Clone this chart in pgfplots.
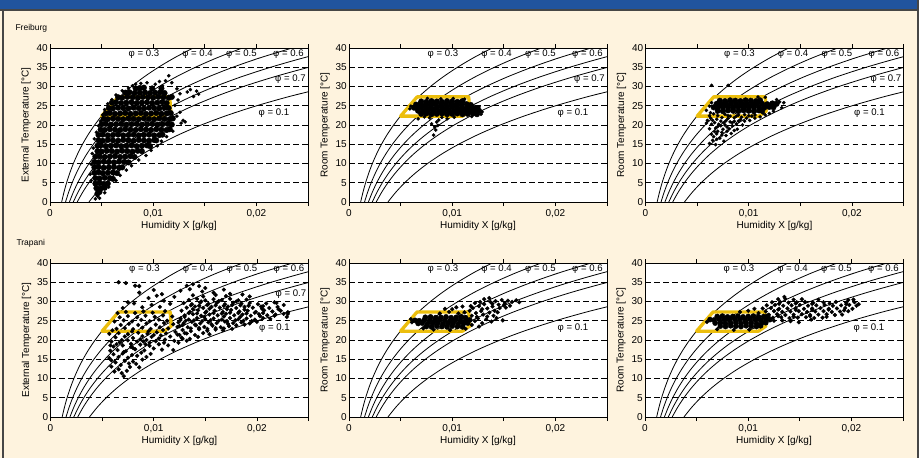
\documentclass[border=0pt]{standalone}
\usepackage{pgfplots}
\pgfplotsset{compat=1.18}
\usepackage{fontspec}
\setmainfont{Liberation Sans}
\definecolor{hdrblue}{RGB}{33,84,158}
\definecolor{cream}{RGB}{254,243,222}
\definecolor{zoneyellow}{RGB}{236,190,12}
\definecolor{framec}{RGB}{70,70,70}

\pgfplotsset{
 psy/.style={
  scale only axis, width=258pt, height=154pt, anchor=south west,
  xmin=0, xmax=25, ymin=0, ymax=40,
  axis background/.style={fill=white},
  axis line style={line width=0.8pt},
  xtick={0,5,10,15,20,25},
  xticklabels={0,,{0,01},,{0,02},},
  ytick={0,5,...,40},
  tick align=outside,
  major tick length=4pt,
  xtick style={line width=0.8pt,black},
  ytick style={draw=none},
  yticklabel style={xshift=3pt,inner sep=1pt},
  ymajorgrids,
  grid style={black,line width=0.7pt,dash pattern=on 5.5pt off 3.5pt},
  tick label style={font=\fontsize{10}{12}\selectfont},
  /pgf/number format/assume math mode=true,
  xlabel={Humidity X [g/kg]},
  every axis x label/.style={at={(axis description cs:0.5,0)},anchor=center,yshift=-24pt,font=\fontsize{10}{12}\selectfont},
  every axis y label/.style={at={(axis description cs:0,0.5)},xshift=-24pt,rotate=90,anchor=center,font=\fontsize{10}{12}\selectfont},
 },
 core/.style={only marks,mark=*,mark size=2.8pt,black},
 pts/.style={only marks,mark=*,mark size=1.6pt,black},
 curve/.style={black,line width=0.8pt,smooth},
}

\newcommand{\curves}{%
\addplot[curve] coordinates {(1.128,0)(1.350,2.5)(1.609,5)(1.913,7.5)(2.266,10)(2.676,12.5)(3.150,15)(3.697,17.5)(4.326,20)(5.048,22.5)(5.875,25)(6.819,27.5)(7.896,30)(9.121,32.5)(10.512,35)(12.087,37.5)(13.871,40)};
\addplot[curve] coordinates {(1.505,0)(1.801,2.5)(2.148,5)(2.553,7.5)(3.025,10)(3.573,12.5)(4.207,15)(4.939,17.5)(5.781,20)(6.749,22.5)(7.858,25)(9.126,27.5)(10.572,30)(12.221,32.5)(14.095,35)(16.221,37.5)(18.633,40)};
\addplot[curve] coordinates {(1.882,0)(2.253,2.5)(2.687,5)(3.195,7.5)(3.786,10)(4.473,12.5)(5.268,15)(6.186,17.5)(7.243,20)(8.459,22.5)(9.853,25)(11.449,27.5)(13.271,30)(15.351,32.5)(17.719,35)(20.410,37.5)(23.467,40)};
\addplot[curve] coordinates {(2.259,0)(2.705,2.5)(3.228,5)(3.838,7.5)(4.549,10)(5.374,12.5)(6.331,15)(7.438,17.5)(8.712,20)(10.178,22.5)(11.862,25)(13.790,27.5)(15.994,30)(18.513,32.5)(21.384,35)(24.653,37.5)(28.374,40)};
\addplot[curve] coordinates {(2.637,0)(3.158,2.5)(3.769,5)(4.482,7.5)(5.313,10)(6.279,12.5)(7.399,15)(8.695,17.5)(10.187,20)(11.907,22.5)(13.882,25)(16.148,27.5)(18.740,30)(21.706,32.5)(25.091,35)(28.953,37.5)};
\addplot[curve] coordinates {(3.775,0)(4.522,2.5)(5.398,5)(6.423,7.5)(7.618,10)(9.010,12.5)(10.625,15)(12.496,17.5)(14.657,20)(17.151,22.5)(20.024,25)(23.328,27.5)(27.122,30)};
}
\newcommand{\phfont}{\fontsize{9.6}{11}\selectfont}
\newcommand{\phlabels}{%
\node[font=\phfont] at (axis cs:9.1,38.3) {φ = 0.3};
\node[font=\phfont] at (axis cs:14.3,38.3) {φ = 0.4};
\node[font=\phfont] at (axis cs:18.55,38.3) {φ = 0.5};
\node[font=\phfont] at (axis cs:23.1,38.3) {φ = 0.6};
\node[font=\phfont] at (axis cs:21.7,23.0) {φ = 0.1};
}
\newcommand{\phseven}{\node[font=\phfont] at (axis cs:23.3,31.8) {φ = 0.7};}
\newcommand{\zone}{%
\addplot[zoneyellow,line width=3.3pt,line join=round,line cap=round] coordinates {(5.0,22.3)(6.6,27.3)(11.6,27.3)(11.7,23.6)(11.0,22.3)(5.0,22.3)(6.6,27.3)};
}

\begin{document}
\begin{tikzpicture}
\path[use as bounding box] (0pt,0pt) rectangle (924pt,-458pt);
\fill[cream] (0pt,0pt) rectangle (924pt,-458pt);
\fill[white] (919pt,0pt) rectangle (924pt,-458pt);
\fill[hdrblue] (0pt,0pt) rectangle (919pt,-9.5pt);
\draw[framec,line width=1.2pt] (0pt,-10pt) -- (919pt,-10pt);
\draw[framec,line width=1.3pt] (3pt,-10pt) -- (3pt,-458pt);
\draw[framec,line width=1.3pt] (918pt,0pt) -- (918pt,-458pt);
\node[anchor=west,font=\fontsize{8.5}{10}\selectfont] at (12pt,-28pt) {Freiburg};
\node[anchor=west,font=\fontsize{8.5}{10}\selectfont] at (13pt,-243pt) {Trapani};

% ---------- Plot 1: Freiburg external
\begin{axis}[psy, at={(50pt,-202pt)}, ylabel={External Temperature [°C]}]
\curves
\addplot[core] coordinates {
(4.6,2.2)(4.8,2.6)
(4.5,3.6)(4.9,3.5)(5.3,3.7)
(4.4,4.8)(4.8,4.9)(5.2,4.7)(5.6,4.8)
(4.4,6.2)(4.8,6.1)(5.3,6.3)(5.8,6.2)(6.1,6.0)
(4.3,7.6)(4.7,7.7)(5.1,7.5)(5.6,7.6)(6.1,7.7)(6.5,7.5)
(4.3,9.0)(4.7,9.1)(5.2,8.9)(5.7,9.0)(6.2,9.1)(6.7,8.9)(7.0,9.0)
(4.3,10.4)(4.7,10.3)(5.2,10.5)(5.7,10.4)(6.2,10.3)(6.7,10.5)(7.2,10.4)(7.6,10.3)
(4.4,11.8)(4.8,11.9)(5.3,11.7)(5.8,11.8)(6.3,11.9)(6.8,11.7)(7.3,11.8)(7.8,11.9)(8.2,11.7)
(4.6,13.2)(5.0,13.1)(5.5,13.3)(6.0,13.2)(6.5,13.1)(7.0,13.3)(7.5,13.2)(8.0,13.1)(8.5,13.3)(8.9,13.2)
(4.6,14.6)(4.9,14.7)(5.4,14.5)(5.9,14.6)(6.4,14.7)(6.9,14.5)(7.4,14.6)(7.9,14.7)(8.4,14.5)(8.9,14.6)(9.4,14.7)(9.7,14.5)
(4.7,16.0)(5.1,15.9)(5.6,16.1)(6.1,16.0)(6.6,15.9)(7.1,16.1)(7.6,16.0)(8.1,15.9)(8.6,16.1)(9.1,16.0)(9.6,15.9)(10.1,16.1)(10.3,16.0)
(4.7,17.4)(5.1,17.5)(5.6,17.3)(6.1,17.4)(6.6,17.5)(7.1,17.3)(7.6,17.4)(8.1,17.5)(8.6,17.3)(9.1,17.4)(9.6,17.5)(10.1,17.3)(10.6,17.4)(10.9,17.5)
(4.9,18.8)(5.3,18.7)(5.8,18.9)(6.3,18.8)(6.8,18.7)(7.3,18.9)(7.8,18.8)(8.3,18.7)(8.8,18.9)(9.3,18.8)(9.8,18.7)(10.3,18.9)(10.8,18.8)(11.3,18.7)(11.6,18.9)
(5.0,20.2)(5.4,20.3)(5.9,20.1)(6.4,20.2)(6.9,20.3)(7.4,20.1)(7.9,20.2)(8.4,20.3)(8.9,20.1)(9.4,20.2)(9.9,20.3)(10.4,20.1)(10.9,20.2)(11.4,20.3)(11.8,20.1)
(5.2,21.6)(5.6,21.5)(6.1,21.7)(6.6,21.6)(7.1,21.5)(7.6,21.7)(8.1,21.6)(8.6,21.5)(9.1,21.7)(9.6,21.6)(10.1,21.5)(10.6,21.7)(11.1,21.6)(11.6,21.5)(11.9,21.7)
(5.4,23.0)(5.8,23.1)(6.3,22.9)(6.8,23.0)(7.3,23.1)(7.8,22.9)(8.3,23.0)(8.8,23.1)(9.3,22.9)(9.8,23.0)(10.3,23.1)(10.8,22.9)(11.3,23.0)(11.7,23.1)
(5.7,24.4)(6.1,24.3)(6.6,24.5)(7.1,24.4)(7.6,24.3)(8.1,24.5)(8.6,24.4)(9.1,24.3)(9.6,24.5)(10.1,24.4)(10.6,24.3)(11.1,24.5)(11.5,24.4)
(6.0,25.8)(6.4,25.9)(6.9,25.7)(7.4,25.8)(7.9,25.9)(8.4,25.7)(8.9,25.8)(9.4,25.9)(9.9,25.7)(10.4,25.8)(10.9,25.9)(11.3,25.7)
(6.6,27.2)(7.0,27.1)(7.5,27.3)(8.0,27.2)(8.5,27.1)(9.0,27.3)(9.5,27.2)(10.0,27.1)(10.5,27.3)(11.0,27.2)(11.5,27.1)(11.8,27.3)
(7.3,28.4)(7.7,28.5)(8.2,28.3)(8.7,28.4)(9.2,28.5)(9.7,28.3)(10.2,28.4)(10.7,28.5)(11.1,28.3)
(8.3,29.5)(8.7,29.6)(9.1,29.7)(9.9,29.5)(10.8,29.5)
};
\addplot[pts] coordinates {
(11.2,31.5)(11.5,32.8)(11.8,31.0)(10.9,30.2)(8.8,30.8)(9.4,31.0)(8.3,30.6)(12.3,29.4)(12.6,28.1)(13.3,28.6)(13.6,29.2)(14.2,28.8)(14.4,28.0)(13.9,27.4)(12.4,26.5)(12.1,25.1)(12.6,23.3)(12.9,21.2)(12.7,20.5)(13.1,20.8)(12.3,22.3)(11.9,18.4)(11.3,17.0)(10.8,15.8)(10.4,14.6)(9.8,13.4)(9.3,12.1)(8.6,10.9)(7.9,9.4)(7.4,8.3)(6.8,6.9)(6.4,5.6)(5.7,3.9)(5.3,2.4)(4.8,1.0)(4.4,0.8)(4.6,1.5)(4.0,5.6)(3.9,7.2)(4.0,9.8)(4.1,12.6)(4.2,14.0)(4.3,16.4)(4.5,18.1)(4.7,19.8)(4.9,21.0)(5.1,22.6)(5.3,24.0)(5.6,25.5)(6.0,26.6)(6.4,27.8)(7.0,28.9)(7.6,29.6)(8.0,30.2)(10.2,30.6)(10.6,31.3)
};
\zone
\phlabels
\phseven
\end{axis}

% ---------- Plot 2: Freiburg room
\begin{axis}[psy, at={(349pt,-202pt)}, ylabel={Room Temperature [°C]}]
\curves
\addplot[core] coordinates {
(7.0,22.9)(7.5,23.0)(8.0,22.8)(8.5,22.9)(9.0,23.0)(9.5,22.8)(10.0,22.9)(10.5,23.0)(11.0,22.8)(11.5,22.9)(12.0,23.0)(12.4,22.8)
(6.7,23.7)(7.2,23.6)(7.7,23.8)(8.2,23.7)(8.7,23.6)(9.2,23.8)(9.7,23.7)(10.2,23.6)(10.7,23.8)(11.2,23.7)(11.7,23.6)(12.2,23.8)(12.6,23.7)
(6.3,24.5)(6.6,24.4)(7.0,24.6)(7.5,24.5)(8.0,24.4)(8.5,24.6)(9.0,24.5)(9.5,24.4)(10.0,24.6)(10.5,24.5)(11.0,24.4)(11.5,24.6)(12.0,24.5)(12.4,24.4)
(6.5,25.3)(6.9,25.4)(7.4,25.2)(7.9,25.3)(8.4,25.4)(8.9,25.2)(9.4,25.3)(9.9,25.4)(10.4,25.2)(10.9,25.3)(11.4,25.4)(11.8,25.2)
(7.0,26.1)(7.5,26.0)(8.0,26.2)(8.5,26.1)(9.0,26.0)(9.5,26.2)(10.0,26.1)(10.5,26.0)(11.0,26.2)
};
\addplot[pts] coordinates {
(8.2,17.4)(8.3,19.5)(8.0,20.3)(8.5,20.8)(9.5,21.6)(6.7,21.6)(7.8,21.9)(8.7,21.3)(9.0,22.0)(10.2,22.0)(7.3,22.1)(8.4,18.7)(8.6,19.9)(12.9,23.4)(12.6,24.7)(12.8,22.8)(11.9,22.2)(6.0,24.9)(5.9,24.2)(7.6,26.9)(8.9,26.8)(10.1,26.9)(11.2,26.7)
};
\zone
\phlabels
\phseven
\end{axis}

% ---------- Plot 3: Freiburg room (2)
\begin{axis}[psy, at={(645.5pt,-202pt)}, ylabel={Room Temperature [°C]}]
\curves
\addplot[core] coordinates {
(7.0,23.7)(7.5,23.6)(8.0,23.8)(8.5,23.7)(9.0,23.6)(9.5,23.8)(10.0,23.7)(10.5,23.6)(11.0,23.8)(11.3,23.7)
(6.6,24.6)(7.0,24.5)(7.5,24.7)(8.0,24.6)(8.5,24.5)(9.0,24.7)(9.5,24.6)(10.0,24.5)(10.5,24.7)(11.0,24.6)(11.5,24.5)(12.0,24.7)(12.4,24.6)
(6.9,25.5)(7.3,25.4)(7.8,25.6)(8.3,25.5)(8.8,25.4)(9.3,25.6)(9.8,25.5)(10.3,25.4)(10.8,25.6)(11.3,25.5)(11.8,25.4)(12.3,25.6)(12.7,25.5)
(7.2,26.3)(7.7,26.2)(8.2,26.4)(8.7,26.3)(9.2,26.2)(9.7,26.4)(10.2,26.3)(10.7,26.2)(11.1,26.4)
};
\addplot[pts] coordinates {
(6.2,15.2)(6.5,16.0)(6.9,17.7)(6.6,17.0)(7.2,16.6)(7.0,18.4)(7.5,18.9)(7.9,19.5)(7.3,19.8)(6.8,19.2)(8.4,19.8)(8.8,20.3)(8.2,20.8)(7.6,20.6)(6.4,20.2)(6.0,21.2)(5.9,20.5)(6.3,21.8)(6.9,21.5)(7.4,21.9)(8.0,21.7)(8.6,21.9)(9.2,21.4)(9.6,21.0)(10.1,21.2)(10.6,21.8)(11.1,22.1)(11.6,22.6)(12.0,23.0)(12.4,23.6)(9.0,22.6)(10.0,22.4)(7.7,22.8)(6.6,22.9)(6.3,23.2)(5.9,23.8)(8.3,17.8)(7.8,17.3)(6.8,14.9)(7.6,15.8)(9.4,20.0)(8.9,18.9)(13.2,24.5)(13.4,25.8)(12.7,26.6)(13.0,26.0)(6.4,30.3)(8.0,30.3)(11.6,27.2)(10.9,27.3)(6.4,25.8)(6.2,24.9)
(7.1,20.2)(7.8,21.1)(8.6,21.0)(9.3,22.0)(7.0,22.4)(6.5,21.2)(7.4,18.1)(8.1,19.0)(6.7,18.3)(10.6,22.6)(11.4,23.1)(8.2,22.3)
(6.4,17.6)(7.0,19.6)(7.7,20.0)(8.4,20.6)(9.0,21.0)(9.8,21.8)(10.3,22.3)(6.2,19.0)(6.7,20.6)(7.3,21.0)(8.0,22.4)(8.8,22.3)(9.6,22.7)(6.2,22.4)(6.9,16.3)(7.4,17.4)(8.6,18.6)(7.9,18.4)
};
\zone
\phlabels
\phseven
\end{axis}

% ---------- Plot 4: Trapani external
\begin{axis}[psy, at={(50.5pt,-417pt)}, ylabel={External Temperature [°C]}]
\curves
\addplot[pts,mark size=1.9pt] coordinates {
(6.2,11.8)(7.1,10.6)(6.6,12.4)(7.4,12.0)(5.9,13.1)(6.8,13.5)(7.7,13.0)(8.3,13.8)(6.3,14.2)(7.2,14.6)(8.0,14.4)(8.9,14.9)(5.7,15.3)(6.6,15.6)(7.5,15.4)(8.4,15.9)(9.3,15.6)(6.1,16.3)(7.0,16.5)(7.9,16.1)(8.8,16.7)(9.7,16.4)(5.9,14.7)(6.9,11.4)(7.6,13.9)(8.6,12.9)
(5.8,17.2)(6.5,17.4)(7.3,17.1)(8.2,17.6)(9.1,17.3)(10.0,17.8)(10.8,17.5)(6.1,18.3)(7.0,18.6)(7.8,18.2)(8.7,18.8)(9.6,18.5)(10.5,18.9)(11.4,18.6)(5.9,19.6)(6.7,19.4)(7.5,19.9)(8.4,19.6)(9.3,20.0)(10.2,19.7)(11.1,20.1)(12.0,19.8)(6.3,20.7)(7.2,20.9)(8.0,20.5)(8.9,21.0)(9.8,20.8)(10.7,21.2)(11.6,20.9)(12.5,21.3)(5.7,21.6)(6.6,21.8)(7.5,21.5)(8.5,21.9)(9.4,21.6)(10.3,22.0)(11.2,21.7)(12.1,22.1)(13.0,21.8)(11.9,17.4)(12.8,20.3)(6.0,22.5)
(6.9,20.0)(7.8,19.0)(8.7,20.2)(9.6,19.3)(10.5,20.4)(7.1,16.9)(8.0,17.9)(9.2,18.9)(6.4,18.9)(5.8,18.6)
(6.4,22.9)(7.2,23.1)(8.0,22.8)(8.9,23.2)(9.7,22.9)(10.6,23.3)(11.4,23.0)(12.3,23.4)(6.8,23.9)(7.6,24.2)(8.5,23.9)(9.3,24.3)(10.2,24.0)(11.0,24.4)(11.9,24.1)(6.2,24.8)(7.1,25.1)(7.9,24.8)(8.8,25.2)(9.6,24.9)(10.5,25.3)(11.3,25.0)(12.6,25.2)(6.7,25.9)(7.5,26.2)(8.4,25.9)(9.2,26.3)(10.1,26.0)(10.9,26.4)(11.8,26.1)(6.5,27.0)(7.3,27.3)(8.2,27.0)(9.0,27.4)(9.9,27.1)(11.1,27.5)(12.4,24.6)(12.8,23.9)
(6.6,35.0)(7.3,34.8)(8.2,34.1)(8.6,34.0)(10.0,33.0)(7.5,29.8)(8.1,29.5)(8.9,28.5)(9.5,30.9)(10.3,31.5)(10.8,31.9)(11.0,30.2)(9.8,29.1)(10.6,28.6)(7.0,28.3)(8.6,32.3)(11.6,29.4)(12.0,31.2)(12.6,32.8)(13.2,34.1)(13.8,34.5)(14.4,34.0)(13.5,33.2)(15.0,33.5)(16.8,33.1)(17.4,32.0)(18.6,31.8)(19.3,31.3)(14.7,32.6)(15.8,32.3)
(12.4,19.3)(13.2,19.8)
(12.7,20.6)(13.5,20.3)(14.3,20.8)
(12.3,21.4)(13.2,21.7)(14.0,21.3)(14.8,21.8)(15.4,21.5)
(12.8,22.6)(13.6,22.3)(14.4,22.8)(15.2,22.4)(16.0,22.7)(16.7,22.5)
(12.5,23.6)(13.3,23.3)(14.1,23.8)(14.9,23.4)(15.7,23.7)(16.5,23.3)(17.3,23.6)(18.0,23.8)
(12.9,24.4)(13.7,24.7)(14.5,24.3)(15.3,24.6)(16.1,24.4)(16.9,24.8)(17.7,24.4)(18.5,24.6)(19.3,24.3)(20.0,24.7)
(12.6,25.6)(13.4,25.3)(14.2,25.7)(15.0,25.4)(15.8,25.6)(16.6,25.3)(17.4,25.7)(18.2,25.4)(19.0,25.6)(19.8,25.3)(20.6,25.7)(21.3,25.5)
(13.0,26.4)(13.8,26.7)(14.6,26.3)(15.4,26.6)(16.2,26.4)(17.0,26.8)(17.8,26.4)(18.6,26.6)(19.4,26.3)(20.2,26.7)(21.0,26.4)(21.8,26.6)(22.6,26.8)
(12.7,27.6)(13.5,27.3)(14.3,27.7)(15.1,27.4)(15.9,27.6)(16.7,27.3)(17.5,27.8)(18.3,27.4)(19.1,27.6)(19.9,27.3)(20.7,27.7)(21.5,27.4)(22.3,27.6)(23.0,27.2)
(13.2,28.4)(14.0,28.7)(14.8,28.3)(15.6,28.6)(16.4,28.4)(17.2,28.7)(18.0,28.3)(18.8,28.6)(19.6,28.4)(20.4,28.7)(21.2,28.3)(22.0,28.6)
(12.9,29.6)(13.7,29.3)(14.5,29.7)(15.3,29.4)(16.1,29.6)(16.9,29.3)(17.7,29.7)(18.5,29.4)(19.3,29.6)(20.1,29.3)(20.9,29.5)(21.7,29.8)
(13.4,30.4)(14.2,30.7)(15.0,30.3)(15.8,30.6)(16.6,30.4)(17.4,30.7)(18.2,30.3)(19.0,30.5)
(13.8,31.6)(14.8,31.3)(16.0,31.7)(17.0,31.4)
(13.6,23.0)(14.4,23.1)(15.2,22.9)(16.0,23.1)(16.8,23.0)(17.6,22.9)
(13.1,25.0)(13.9,25.1)(14.7,24.9)(15.5,25.1)(16.3,25.0)(17.1,24.9)(17.9,25.1)(18.7,25.0)(19.5,24.9)
(13.4,27.0)(14.2,26.9)(15.0,27.1)(15.8,27.0)(16.6,26.9)(17.4,27.1)(18.2,27.0)(19.0,26.9)(19.8,27.1)(20.6,27.0)
(13.6,29.0)(14.4,28.9)(15.2,29.1)(16.0,29.0)(16.8,28.9)(17.6,29.1)(18.4,29.0)(19.2,28.9)
(22.1,28.0)(22.6,29.1)(23.0,26.8)(22.9,26.0)(21.7,26.3)(20.6,28.8)(21.9,29.6)
(14.0,24.0)(15.6,24.1)(17.2,24.2)(18.8,24.0)(13.0,26.0)(14.9,26.0)(16.8,26.1)(18.4,26.0)(20.3,26.2)(13.8,28.0)(15.4,28.1)(17.1,28.0)(18.8,27.9)(20.5,28.1)(14.6,30.0)(16.3,30.1)(18.0,30.0)(9.0,19.6)(10.0,21.3)(11.0,19.3)(7.9,22.2)(9.5,22.3)(10.9,22.6)
};
\zone
\phlabels
\phseven
\end{axis}

% ---------- Plot 5: Trapani room
\begin{axis}[psy, at={(349pt,-417pt)}, ylabel={Room Temperature [°C]}]
\curves
\addplot[core,mark size=2.6pt] coordinates {
(7.5,23.5)(8.0,23.4)(8.5,23.6)(9.0,23.5)(9.5,23.4)(10.0,23.6)(10.5,23.5)(11.0,23.4)
(6.7,24.3)(7.1,24.4)(7.6,24.2)(8.1,24.3)(8.6,24.4)(9.1,24.2)(9.6,24.3)(10.1,24.4)(10.6,24.2)(11.1,24.3)(11.5,24.4)
(6.4,25.1)(6.8,25.0)(7.3,25.2)(7.8,25.1)(8.3,25.0)(8.8,25.2)(9.3,25.1)(9.8,25.0)(10.3,25.2)(10.8,25.1)(11.3,25.0)(11.7,25.2)
(7.4,25.9)(7.9,26.0)(8.4,25.8)(8.9,25.9)(9.4,26.0)(9.9,25.8)(10.4,25.9)(10.9,26.0)(11.3,25.8)
};
\addplot[pts,mark size=1.9pt] coordinates {
(11.9,26.3)(12.3,27.0)(12.0,28.3)(12.6,28.8)(12.8,27.5)(13.1,29.3)(13.4,28.2)(13.0,26.6)(13.7,29.9)(13.9,28.7)(14.2,30.1)(14.5,29.2)(14.1,27.6)(14.8,30.4)(15.1,29.6)(15.4,30.2)(15.8,29.9)(16.2,30.3)(16.5,29.8)(15.6,28.9)(14.6,28.3)(13.6,27.1)(12.5,25.6)(13.3,25.4)(13.8,24.8)(14.9,25.1)(12.2,24.9)(11.7,27.6)(11.2,27.2)(10.6,26.9)(9.7,27.3)(8.8,26.9)(9.3,28.1)(10.4,28.5)(11.0,28.7)(12.2,29.6)(13.1,30.6)(13.6,30.9)(11.9,23.9)(12.6,23.5)(8.2,22.7)(7.2,23.0)(9.8,22.6)(11.3,22.9)(6.1,24.6)(6.0,25.4)(14.0,26.3)(12.9,24.4)(15.2,28.4)
(12.4,26.0)(13.4,26.1)(12.9,28.0)(14.4,27.2)(13.9,29.4)(15.0,29.0)(11.8,28.8)(12.7,29.9)(10.0,28.0)(14.3,25.7)
};
\zone
\phlabels
\end{axis}

% ---------- Plot 6: Trapani room (2)
\begin{axis}[psy, at={(645pt,-417pt)}, ylabel={Room Temperature [°C]}]
\curves
\addplot[core,mark size=2.6pt] coordinates {
(7.3,23.6)(7.8,23.5)(8.3,23.7)(8.8,23.6)(9.3,23.5)(9.8,23.7)(10.3,23.6)(10.8,23.5)(11.2,23.7)
(6.8,24.4)(7.3,24.5)(7.8,24.3)(8.3,24.4)(8.8,24.5)(9.3,24.3)(9.8,24.4)(10.3,24.5)(10.8,24.3)(11.3,24.4)(11.7,24.5)
(6.3,25.3)(6.7,25.2)(7.2,25.4)(7.7,25.3)(8.2,25.2)(8.7,25.4)(9.2,25.3)(9.7,25.2)(10.2,25.4)(10.7,25.3)(11.2,25.2)(11.7,25.4)(12.1,25.3)
(7.0,26.1)(7.5,26.2)(8.0,26.0)(8.5,26.1)(9.0,26.2)(9.5,26.0)(10.0,26.1)(10.5,26.2)(11.0,26.0)(11.5,26.1)(11.9,26.2)
};
\addplot[pts,mark size=1.9pt] coordinates {
(12.5,25.0)(13.3,25.1)(14.1,24.9)
(12.4,25.8)(13.2,25.9)(14.0,25.7)(14.8,25.8)(15.6,25.9)(16.4,25.7)(17.2,25.8)
(12.0,26.6)(12.8,26.7)(13.6,26.5)(14.4,26.6)(15.2,26.7)(16.0,26.5)(16.8,26.6)(17.6,26.7)(18.4,26.5)(19.1,26.6)
(11.7,27.4)(12.5,27.5)(13.3,27.3)(14.1,27.4)(14.9,27.5)(15.7,27.3)(16.5,27.4)(17.3,27.5)(18.1,27.3)(18.9,27.4)(19.7,27.5)
(11.4,28.2)(12.2,28.3)(13.0,28.1)(13.8,28.2)(14.6,28.3)(15.4,28.1)(16.2,28.2)(17.0,28.3)(17.8,28.1)(18.6,28.2)(19.4,28.3)(20.1,28.1)
(11.8,29.0)(12.6,29.1)(13.4,28.9)(14.2,29.0)(15.0,29.1)(15.8,28.9)(16.6,29.0)(17.4,29.1)(18.2,28.9)(19.0,29.0)(19.8,29.1)(20.5,28.9)
(12.3,29.8)(13.1,29.9)(13.9,29.7)(14.7,29.8)(15.5,29.9)(16.3,29.7)(17.3,29.8)(18.5,29.9)(19.5,29.7)(20.3,29.8)
(12.9,30.6)(13.6,30.7)(14.4,30.5)(15.2,30.6)(16.8,30.5)(19.7,30.4)
(10.0,27.6)(9.2,27.3)(10.6,28.1)(11.0,27.0)(13.5,31.2)(20.7,29.3)(20.2,30.5)(14.9,24.6)(16.1,25.3)(7.0,22.8)(8.6,22.6)(10.1,22.7)(6.0,24.7)
(12.9,26.2)(14.4,26.1)(16.0,26.2)(17.6,26.0)(12.9,27.9)(14.6,27.8)(16.2,27.8)(17.8,27.9)(19.3,27.7)(13.0,29.4)(14.6,29.5)(16.2,29.4)(17.9,29.5)(19.5,29.3)
};
\zone
\phlabels
\end{axis}
\end{tikzpicture}
\end{document}
